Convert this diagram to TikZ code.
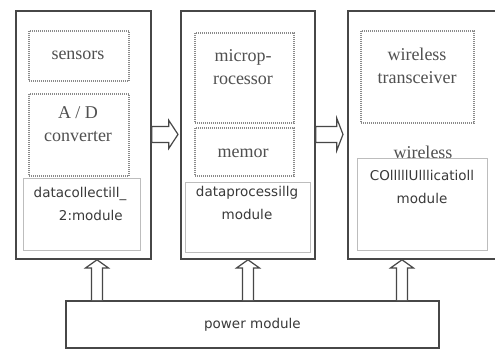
\documentclass[tikz,border=0pt]{standalone}
\usepackage{fontspec}
\setmainfont{Liberation Serif}
\newfontfamily\labelsans{DejaVu Sans}
\usetikzlibrary{calc}
\definecolor{boxgray}{HTML}{474747}
\definecolor{dotgray}{HTML}{8A8A8A}
\definecolor{serifgray}{HTML}{505050}
\definecolor{sansgray}{HTML}{3A3A3A}
\definecolor{thingray}{HTML}{BDBDBD}
\tikzset{
  outerbox/.style={draw=boxgray, line width=1.8pt, fill=white, anchor=north west, inner sep=0pt},
  dotbox/.style={draw=dotgray, dash pattern=on 1pt off 1pt, line width=1.5pt, anchor=north west, inner sep=0pt},
  modbox/.style={draw=thingray, line width=0.8pt, anchor=north west, inner sep=0pt},
  seriftext/.style={align=center, text=serifgray, inner sep=0pt, font=\fontsize{18}{23}\selectfont},
  sanstext/.style={align=center, text=sansgray, inner sep=0pt, font=\labelsans\fontsize{13.5}{23}\selectfont},
  blockarrow/.style={draw=boxgray, line width=1.2pt, fill=white, line join=miter},
}
\begin{document}
\begin{tikzpicture}[x=1pt,y=-1pt]
\useasboundingbox (0,0) rectangle (495,349);
\clip (0,0) rectangle (495,349);
\fill[white] (0,0) rectangle (495,349);
% outer modules
\node[outerbox, minimum width=135pt, minimum height=248pt] (m1) at (15,10) {};
\node[outerbox, minimum width=134pt, minimum height=248pt] (m2) at (180,10) {};
\node[outerbox, minimum width=160pt, minimum height=248pt] (m3) at (347,10) {};
\node[outerbox, minimum width=373pt, minimum height=47pt] (pw) at (65,300) {};
% inner boxes, module 1
\node[dotbox, minimum width=100pt, minimum height=50pt] (sens) at (28,30) {};
\node[seriftext] (senst) at (78,55) {sensors};
\node[dotbox, minimum width=100pt, minimum height=82pt] (adc) at (28,93) {};
\node[seriftext] (adct) at (78,124) {A / D\\converter};
\node[modbox, minimum width=117pt, minimum height=72pt] (dcm) at (23,178) {};
\node[sanstext] (dcmt) at (80,204) {datacollectill\_\\\hspace*{1.6em}2:module};
% module 2
\node[dotbox, minimum width=99pt, minimum height=90pt] (mpu) at (194,32) {};
\node[seriftext] (mput) at (243,67) {microp-\\rocessor};
\node[dotbox, minimum width=99pt, minimum height=48pt] (mem) at (194,127) {};
\node[seriftext] (memt) at (243,153) {memor};
\node[modbox, minimum width=125pt, minimum height=70pt] (dpm) at (185,182) {};
\node[sanstext] (dpmt) at (247,203) {dataprocessillg\\module};
% module 3
\node[dotbox, minimum width=113pt, minimum height=92pt] (wtr) at (360,30) {};
\node[seriftext] (wtrt) at (417,66) {wireless\\transceiver};
\node[seriftext] (wlt) at (423,152) {wireless};
\node[modbox, minimum width=130pt, minimum height=92pt] (wcm) at (357,158) {};
\node[sanstext] (wcmt) at (422,187) {COlllllUlllicatioll\\module};
% power
\node[sanstext] (pwt) at (pw.center) {power module};
% horizontal block arrows
\draw[blockarrow] ($(m1.east)+(0,-0.5)$) coordinate (a1s)
  -- ++(0,-8) -- ++(17,0) -- ++(0,-6) -- ($(m2.west)+(-2,-0.5)$) -- ($(a1s)+(17,14)$) -- ++(0,-6) -- ++(-17,0) -- cycle;
\draw[blockarrow] ($(m2.east)+(0,-0.5)$) coordinate (a2s)
  -- ++(0,-8) -- ++(21,0) -- ++(0,-8) -- ($(m3.west)+(-4,-0.5)$) -- ($(a2s)+(21,16)$) -- ++(0,-8) -- ++(-21,0) -- cycle;
% vertical block arrows from power module
\foreach \x/\n in {97/u1,248/u2,402/u3}{
  \draw[blockarrow] ($(pw.north west -| \x,0)+(-5.5,0)$) coordinate (\n)
    -- ++(0,-32) -- ++(-6,0) -- ($(m1.south -| \x,0)$) -- ($(\n)+(17,-32)$) -- ++(-6,0) -- ++(0,32);
}
\end{tikzpicture}
\end{document}
